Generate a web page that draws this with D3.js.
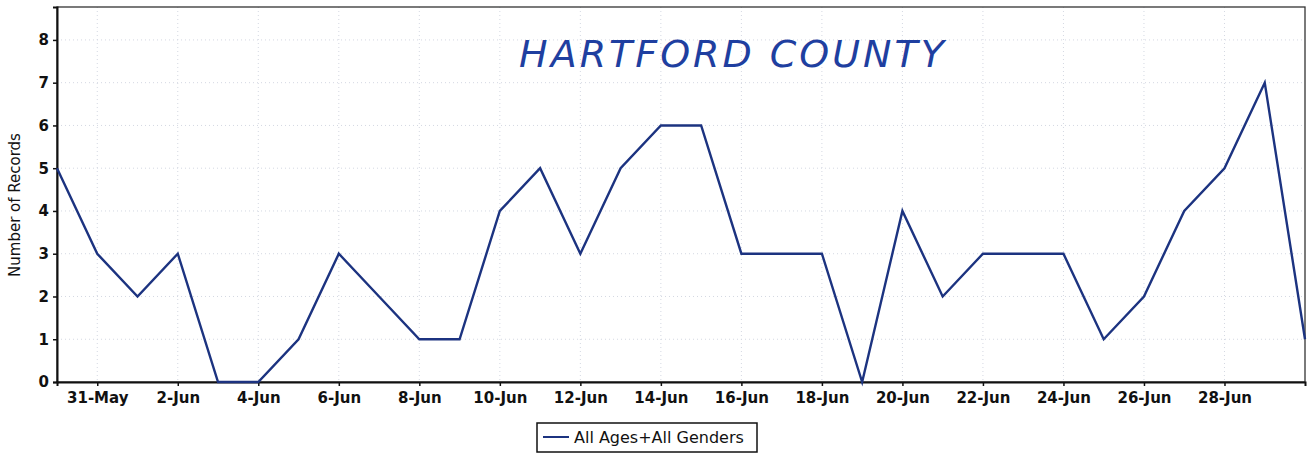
<!DOCTYPE html>
<html><head><meta charset="utf-8">
<script src="https://cdn.jsdelivr.net/npm/d3@7"></script>
<style>body{margin:0;background:#fff;} svg{display:block;}</style>
</head><body>
<svg id="c" width="1314" height="453"></svg>
<script>
const dates = ["2023-05-30","2023-05-31","2023-06-01","2023-06-02","2023-06-03","2023-06-04","2023-06-05","2023-06-06","2023-06-07","2023-06-08","2023-06-09","2023-06-10","2023-06-11","2023-06-12","2023-06-13","2023-06-14","2023-06-15","2023-06-16","2023-06-17","2023-06-18","2023-06-19","2023-06-20","2023-06-21","2023-06-22","2023-06-23","2023-06-24","2023-06-25","2023-06-26","2023-06-27","2023-06-28","2023-06-29","2023-06-30"];
const records = [5,3,2,3,0,0,1,3,2,1,1,4,5,3,5,6,6,3,3,3,0,4,2,3,3,3,1,2,4,5,7,1];
const yTicks = [0,1,2,3,4,5,6,7,8];
const xTickDates = ["2023-05-31","2023-06-02","2023-06-04","2023-06-06","2023-06-08","2023-06-10","2023-06-12","2023-06-14","2023-06-16","2023-06-18","2023-06-20","2023-06-22","2023-06-24","2023-06-26","2023-06-28"];
const seriesName = "All Ages+All Genders";
const title = "HARTFORD COUNTY";
const yLabel = "Number of Records";

const parse = d3.utcParse("%Y-%m-%d");
const data = dates.map((d,i)=>({date:parse(d), v:records[i]}));
const svg = d3.select("#c");
const L=57, R=1305, T=7, B=382;
const x = d3.scaleUtc().domain([parse(dates[0]), parse(dates[dates.length-1])]).range([L,R]);
const y = d3.scaleLinear().domain([0,8.77]).range([B,T]);
const font = "DejaVu Sans, sans-serif";

svg.append("rect").attr("x",L).attr("y",T).attr("width",R-L).attr("height",B-T).attr("fill","#fff");

const g = svg.append("g");
g.selectAll(".gx").data(xTickDates.map(parse)).enter().append("line")
 .attr("x1",d=>x(d)).attr("x2",d=>x(d)).attr("y1",T).attr("y2",B)
 .attr("stroke","#d4d8e2").attr("stroke-dasharray","1,3");
g.selectAll(".gy").data(yTicks.filter(t=>t>0)).enter().append("line")
 .attr("x1",L).attr("x2",R).attr("y1",d=>y(d)).attr("y2",d=>y(d))
 .attr("stroke","#d4d8e2").attr("stroke-dasharray","1,3");

svg.append("rect").attr("x",L).attr("y",T).attr("width",R-L).attr("height",B-T)
 .attr("fill","none").attr("stroke","#333").attr("stroke-width",1.3);

const yAxis = svg.append("g").attr("transform",`translate(${L},0)`)
 .call(d3.axisLeft(y).tickValues(yTicks).tickFormat(d3.format("d")).tickSize(4).tickPadding(4));
const xAxis = svg.append("g").attr("transform",`translate(0,${B})`)
 .call(d3.axisBottom(x).tickValues(xTickDates.map(parse)).tickFormat(d3.utcFormat("%-d-%b")).tickSize(4).tickPadding(6));
[yAxis,xAxis].forEach(a=>{
  a.selectAll("text").attr("font-family",font).attr("font-size",15).attr("font-weight","bold").attr("fill","#111");
  a.select(".domain").attr("stroke","#111").attr("stroke-width",2);
  a.selectAll(".tick line").attr("stroke","#111").attr("stroke-width",1.5);
});

svg.append("path").datum(data)
 .attr("d", d3.line().x(d=>x(d.date)).y(d=>y(d.v)))
 .attr("fill","none").attr("stroke","#1c3380").attr("stroke-width",2.4).attr("stroke-linejoin","miter");

svg.append("text").attr("transform","translate(20,205) rotate(-90)")
 .attr("text-anchor","middle").attr("font-family",font).attr("font-size",15).attr("fill","#111").text(yLabel);

svg.append("text").attr("x",733).attr("y",67).attr("text-anchor","middle")
 .attr("font-family","DejaVu Sans, sans-serif").attr("font-style","italic").attr("font-size",38)
 .attr("letter-spacing",3).attr("fill","#1f3fa0").text(title);

const lg = svg.append("g");
lg.append("rect").attr("x",537).attr("y",423).attr("width",220).attr("height",29)
 .attr("fill","#fff").attr("stroke","#111").attr("stroke-width",1.5);
lg.append("line").attr("x1",543).attr("x2",569).attr("y1",437).attr("y2",437).attr("stroke","#1c3380").attr("stroke-width",2);
lg.append("text").attr("x",574).attr("y",443).attr("font-family",font).attr("font-size",16).attr("fill","#111").text(seriesName);
</script>
</body></html>
